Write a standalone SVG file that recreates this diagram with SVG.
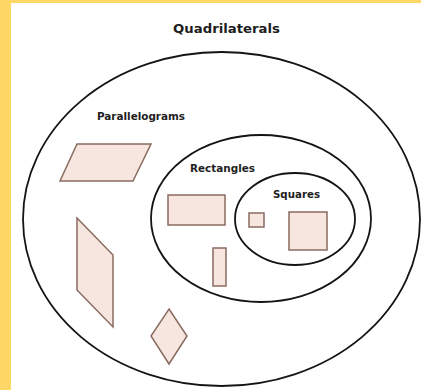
<svg xmlns="http://www.w3.org/2000/svg" width="421" height="390" viewBox="0 0 421 390">
  <style>
    .set { fill: none; stroke: #141414; stroke-width: 1.8; }
    .shape { fill: #f6e6df; stroke: #8a6b60; stroke-width: 1.5; stroke-linejoin: miter; }
    .lbl { font-family: "DejaVu Sans", "Liberation Sans", sans-serif; font-weight: bold; fill: #1e1e1e; }
  </style>
  <rect x="0" y="0" width="421" height="390" fill="#ffffff"/>
  <rect x="0" y="0" width="11" height="390" fill="#ffd766"/>
  <rect x="0" y="0" width="421" height="3" fill="#ffd766"/>

  <g id="quadrilaterals">
    <ellipse class="set" cx="221.5" cy="219" rx="198.5" ry="167"/>
    <text class="lbl" x="226.5" y="33" font-size="13" text-anchor="middle" textLength="107" lengthAdjust="spacingAndGlyphs">Quadrilaterals</text>
    <polygon class="shape" points="77,218 113,255 113,327 77,290"/>
    <polygon class="shape" points="169,309 187,336 169,364 151,336"/>
  </g>

  <g id="parallelograms">
    <text class="lbl" x="97" y="120" font-size="10.5" textLength="88" lengthAdjust="spacingAndGlyphs">Parallelograms</text>
    <polygon class="shape" points="77,144 151,144 133,181 60,181"/>
  </g>

  <g id="rectangles">
    <ellipse class="set" cx="261" cy="218.5" rx="110" ry="83.5"/>
    <text class="lbl" x="190" y="172" font-size="10.5" textLength="65" lengthAdjust="spacingAndGlyphs">Rectangles</text>
    <rect class="shape" x="168" y="195" width="57" height="30"/>
    <rect class="shape" x="213" y="248" width="13" height="38"/>
  </g>

  <g id="squares">
    <ellipse class="set" cx="295" cy="219" rx="60" ry="46"/>
    <text class="lbl" x="273" y="198" font-size="10.5" textLength="47" lengthAdjust="spacingAndGlyphs">Squares</text>
    <rect class="shape" x="249" y="213" width="15" height="14"/>
    <rect class="shape" x="289" y="212" width="38" height="38"/>
  </g>

  <g id="connectors"/>
</svg>
